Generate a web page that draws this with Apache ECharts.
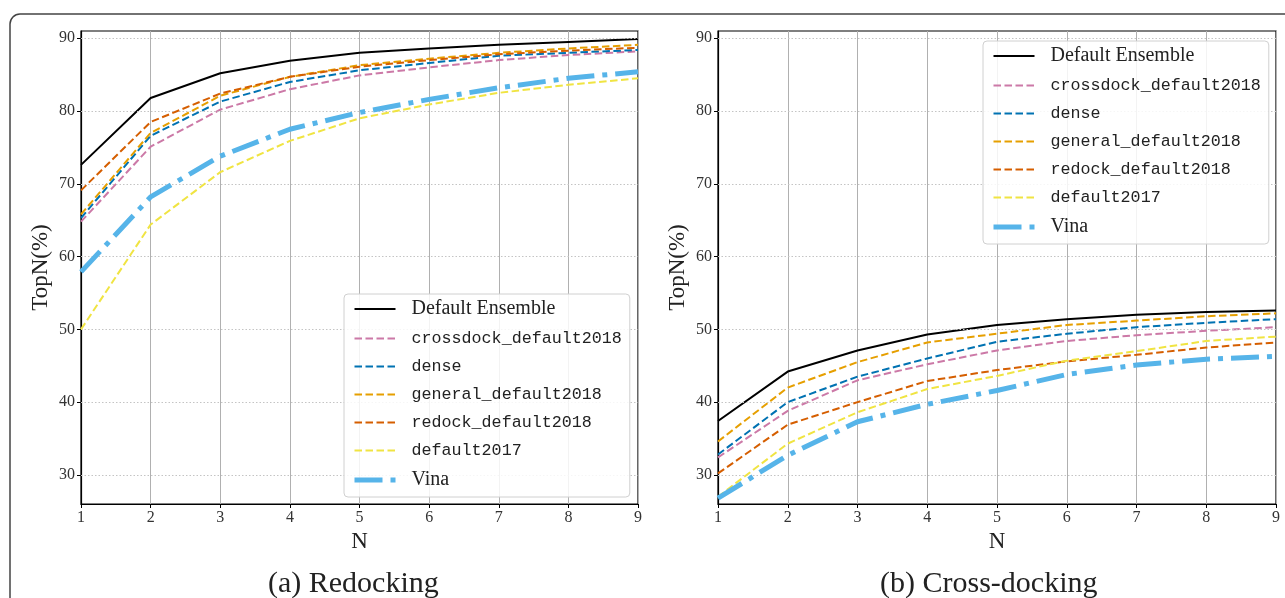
<!DOCTYPE html>
<html>
<head>
<meta charset="utf-8">
<script src="https://cdn.jsdelivr.net/npm/echarts@6/dist/echarts.min.js"></script>
<style>html,body{margin:0;padding:0;background:#fff;}#c{width:1285px;height:598px;}</style>
</head>
<body>
<div id="c"></div>
<script>
const nValues = [1, 2, 3, 4, 5, 6, 7, 8, 9];
const yTicks = [30, 40, 50, 60, 70, 80, 90];
const seriesNames = ['Default Ensemble', 'crossdock_default2018', 'dense', 'general_default2018', 'redock_default2018', 'default2017', 'Vina'];
const panelTitles = ['(a) Redocking', '(b) Cross-docking'];

// (a) Redocking
const redockEnsemble  = [72.6, 81.8, 85.2, 86.9, 88.0, 88.6, 89.1, 89.5, 89.9];
const redockCrossdock = [64.8, 75.1, 80.2, 83.0, 84.9, 86.0, 87.0, 87.7, 88.2];
const redockDense     = [65.3, 76.6, 81.3, 84.0, 85.6, 86.6, 87.6, 88.0, 88.4];
const redockGeneral   = [65.8, 77.0, 82.1, 84.7, 86.3, 87.2, 88.0, 88.6, 89.1];
const redockRedock    = [69.1, 78.5, 82.4, 84.7, 86.1, 87.0, 87.8, 88.3, 88.7];
const redock2017      = [50.0, 64.4, 71.6, 75.9, 79.0, 80.9, 82.5, 83.6, 84.5];
const redockVina      = [57.9, 68.2, 73.8, 77.5, 79.8, 81.6, 83.2, 84.5, 85.4];

// (b) Cross-docking
const crossEnsemble  = [37.4, 44.2, 47.1, 49.3, 50.6, 51.4, 52.0, 52.4, 52.6];
const crossCrossdock = [32.4, 38.8, 43.0, 45.2, 47.1, 48.4, 49.2, 49.8, 50.3];
const crossDense     = [32.8, 40.0, 43.5, 46.0, 48.3, 49.4, 50.3, 50.9, 51.4];
const crossGeneral   = [34.6, 42.0, 45.5, 48.2, 49.4, 50.6, 51.2, 51.8, 52.2];
const crossRedock    = [30.2, 36.9, 40.0, 42.9, 44.4, 45.6, 46.5, 47.5, 48.2];
const cross2017      = [27.0, 34.3, 38.6, 41.8, 43.6, 45.7, 47.0, 48.4, 49.0];
const crossVina      = [26.8, 32.7, 37.3, 39.7, 41.6, 43.8, 45.1, 45.9, 46.3];

const panelData = [
  [redockEnsemble, redockCrossdock, redockDense, redockGeneral, redockRedock, redock2017, redockVina],
  [crossEnsemble, crossCrossdock, crossDense, crossGeneral, crossRedock, cross2017, crossVina]
];

const styles = [
  {color: '#000000', width: 2, type: 'solid'},
  {color: '#CC79A7', width: 2, type: [7.5, 3.5]},
  {color: '#0072B2', width: 2, type: [7.5, 3.5]},
  {color: '#E69F00', width: 2, type: [7.5, 3.5]},
  {color: '#D55E00', width: 2, type: [7.5, 3.5]},
  {color: '#F0E442', width: 2, type: [7.5, 3.5]},
  {color: '#56B4E9', width: 5, type: [28, 8, 5, 8]}
];
const serifNames = ['Default Ensemble', 'Vina'];

const SERIF = '"Liberation Serif", "DejaVu Serif", serif';
const MONO = '"Liberation Mono", "DejaVu Sans Mono", monospace';

const grids = [
  {left: 81, top: 31, width: 557, height: 473},
  {left: 718, top: 31, width: 558, height: 473}
];

const xAxes = [], yAxes = [], series = [], gridOpts = [];
grids.forEach((g, i) => {
  gridOpts.push(Object.assign({show: true, borderColor: '#000', borderWidth: 1.2, backgroundColor: 'transparent'}, g));
  xAxes.push({
    type: 'value', gridIndex: i, min: 1, max: 9, interval: 1,
    name: 'N', nameLocation: 'middle', nameGap: 26,
    nameTextStyle: {fontFamily: SERIF, fontSize: 23, color: '#222'},
    axisLine: {show: true, lineStyle: {color: '#000', width: 1.2}},
    axisTick: {show: true, length: 4, inside: false, lineStyle: {color: '#000', width: 1}},
    axisLabel: {fontFamily: SERIF, fontSize: 16, color: '#333', margin: 6},
    splitLine: {show: true, lineStyle: {color: '#b0b0b0', width: 1, type: 'solid'}}
  });
  yAxes.push({
    type: 'value', gridIndex: i, min: 26, max: 91,
    name: 'TopN(%)', nameLocation: 'middle', nameGap: 29,
    nameTextStyle: {fontFamily: SERIF, fontSize: 23, color: '#222'},
    axisLine: {show: true, lineStyle: {color: '#000', width: 1.2}},
    axisTick: {show: true, length: 4, customValues: yTicks, lineStyle: {color: '#000', width: 1}},
    axisLabel: {fontFamily: SERIF, fontSize: 16, color: '#333', margin: 6, customValues: yTicks},
    splitLine: {show: false}
  });
  panelData[i].forEach((vals, k) => {
    const s = {
      name: seriesNames[k], type: 'line', xAxisIndex: i, yAxisIndex: i,
      data: nValues.map((n, j) => [n, vals[j]]),
      symbol: 'none', showSymbol: false, silent: true, animation: false,
      lineStyle: {color: styles[k].color, width: styles[k].width, type: styles[k].type, cap: 'butt'},
      itemStyle: {color: styles[k].color},
      z: 3 + k
    };
    if (k === 0) {
      s.markLine = {
        silent: true, symbol: 'none', animation: false, label: {show: false},
        lineStyle: {color: '#c4c4c4', width: 1, type: [1.5, 2]},
        data: yTicks.map(v => ({yAxis: v}))
      };
    }
    series.push(s);
  });
});

const legendCommon = {
  orient: 'vertical', itemWidth: 41, itemHeight: 14, itemGap: 11, z: 30,
  padding: [5, 8, 7, 8], backgroundColor: 'rgba(255,255,255,0.85)',
  borderColor: '#d0d0d0', borderWidth: 1, borderRadius: 4,
  selectedMode: false,
  data: seriesNames.map((n, k) => ({name: n, lineStyle: {width: styles[k].width, type: styles[k].type, color: styles[k].color}})),
  itemStyle: {opacity: 0, borderWidth: 0},
  lineStyle: {width: 'inherit'},
  formatter: name => serifNames.includes(name) ? '{s|' + name + '}' : '{m|' + name + '}',
  textStyle: {
    padding: [0, 0, 0, 11],
    rich: {
      s: {fontFamily: SERIF, fontSize: 20, color: '#222', lineHeight: 18},
      m: {fontFamily: MONO, fontSize: 16.7, color: '#222', lineHeight: 18}
    }
  }
};

const option = {
  animation: false,
  backgroundColor: '#fff',
  grid: gridOpts,
  xAxis: xAxes,
  yAxis: yAxes,
  legend: [
    Object.assign({left: 344, top: 294}, legendCommon),
    Object.assign({left: 983, top: 41}, legendCommon)
  ],
  series: series,
  graphic: [
    {type: 'rect', z: -10, silent: true, shape: {x: 10, y: 14, width: 1400, height: 700, r: 10},
     style: {fill: 'none', stroke: '#444', lineWidth: 1.5}},
    {type: 'text', left: 268, top: 569, silent: true,
     style: {text: panelTitles[0], font: '30px ' + SERIF, fill: '#222'}},
    {type: 'text', left: 880, top: 569, silent: true,
     style: {text: panelTitles[1], font: '30px ' + SERIF, fill: '#222'}}
  ]
};

const chart = echarts.init(document.getElementById('c'), null, {renderer: 'canvas'});
chart.setOption(option);
</script>
</body>
</html>
